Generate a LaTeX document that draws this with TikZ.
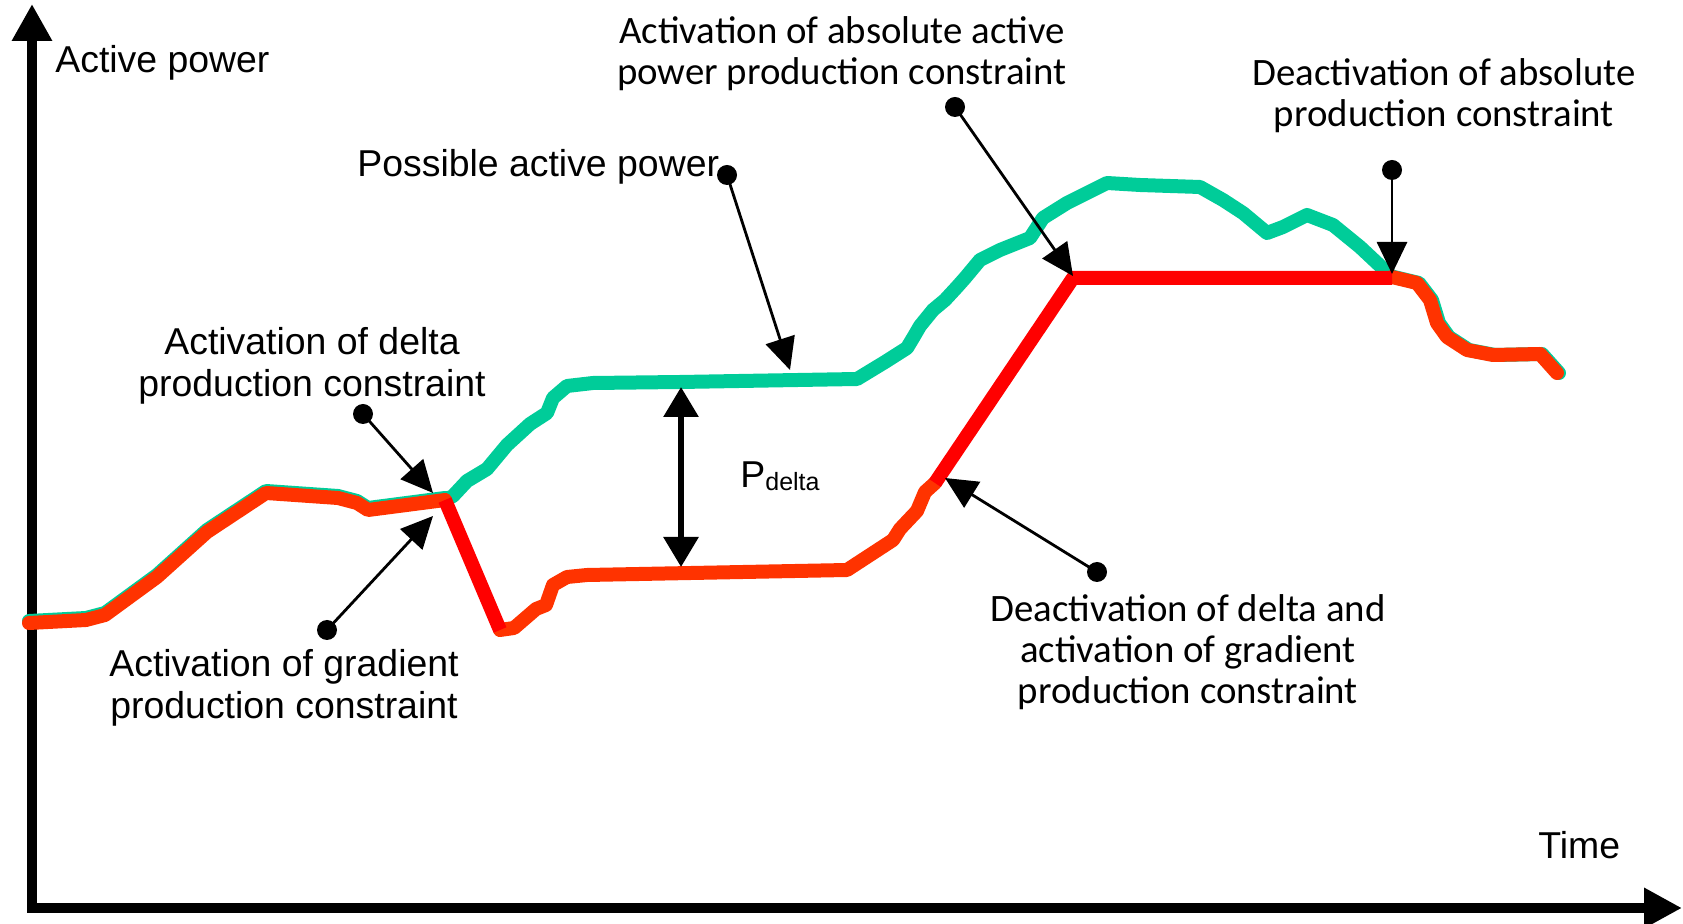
\documentclass[tikz,border=0pt]{standalone}
\usepackage{fontspec}
\setmainfont{Carlito}
\newfontfamily\arialf{Liberation Sans}
\usetikzlibrary{arrows.meta}
\definecolor{possgreen}{HTML}{00CC99}
\definecolor{prodorange}{HTML}{FF3300}
\definecolor{limred}{HTML}{FF0000}
\begin{document}
\begin{tikzpicture}[x=0.5pt,y=-0.5pt,
  axisline/.style={line width=5pt},
  greenc/.style={possgreen, line width=7pt, line join=round, line cap=round},
  orangec/.style={prodorange, line width=7pt, line join=round, line cap=round},
  redc/.style={limred, line width=7pt, line join=miter},
  ann/.style={line width=1.4pt, -{Triangle[length=16pt,width=15pt]}},
  dbl/.style={line width=3pt, {Triangle[length=15pt,width=17pt]}-{Triangle[length=15pt,width=17pt]}},
  dot/.style={circle, fill=black, inner sep=0pt, minimum size=10pt},
  cal/.style={font=\fontsize{19.4}{20.5}\selectfont, align=center, inner sep=0pt},
  arlm/.style={font=\arialf\fontsize{18.7}{21}\selectfont, align=center, inner sep=0pt},
  arl/.style={font=\arialf\fontsize{18.7}{21}\selectfont, inner sep=0pt}]
\useasboundingbox (0,0) rectangle (1683,924);

% axes
\coordinate (ytip) at (32,4);
\coordinate (xtip) at (1682,908);
\draw[axisline, {Triangle[length=18.5pt,width=19pt]}-{Triangle[length=19pt,width=19pt]}] (ytip) |- (xtip);

% possible active power (green)
\draw[greenc, yshift=1pt] (29,623) -- (86,620) -- (105,615) -- (157,577) -- (207,532) -- (266,493) -- (338,498) -- (357,503) -- (368,510) -- (445,500);
\draw[greenc] (445,500) -- (453,496) -- (467,481) -- (487,469) -- (507,445) -- (530,424) -- (547,413) -- (553,398) -- (567,386) -- (593,383) -- (680,382) -- (857,379) -- (885,362) -- (907,348) -- (913,338) -- (920,326) -- (933,310) -- (945,300) -- (957,287) -- (965,278) -- (980,260) -- (1000,250) -- (1030,238) -- (1043,218) -- (1067,203) -- (1107,183) -- (1140,185) -- (1200,187) -- (1223,200) -- (1243,213) -- (1267,233) -- (1283,227) -- (1307,215) -- (1333,225) -- (1360,247) -- (1392,277);
\draw[greenc, xshift=1pt] (1392,277) -- (1417,283) -- (1430,300) -- (1437,323) -- (1447,337) -- (1467,350) -- (1493,355) -- (1540,354) -- (1557,373);

% actual production (orange)
\draw[orangec] (29,623) -- (86,620) -- (105,615) -- (157,577) -- (207,532) -- (266,493) -- (338,498) -- (357,503) -- (368,510) -- (445,500);
\draw[orangec] (500,630) -- (514,628) -- (536,609) -- (546,605) -- (553,585) -- (567,577) -- (587,575) -- (847,570) -- (893,540) -- (900,529) -- (917,511) -- (925,492) -- (935,483);
\draw[orangec] (1392,277) -- (1417,283) -- (1430,300) -- (1437,323) -- (1447,337) -- (1467,350) -- (1493,355) -- (1540,354) -- (1557,373);

% constrained segments (red)
\draw[redc] (445,500) -- (500,630);
\draw[redc] (935,483) -- (1073,278) -- (1392,278);

% P delta arrow
\coordinate (pdTop) at (681,387);
\coordinate (pdBot) at (681,567);
\draw[dbl] (pdTop) -- (pdBot);

% annotation dots and arrows
\node[dot] (dPoss) at (727,175) {};
\coordinate (tPoss) at (790,370);
\node[dot] (dAbsOn) at (955,107) {};
\coordinate (tAbsOn) at (1073,276);
\node[dot] (dAbsOff) at (1392,170) {};
\coordinate (tAbsOff) at (1392,274);
\node[dot] (dDelta) at (363,414) {};
\coordinate (tDelta) at (433,493);
\node[dot] (dGrad) at (327,630) {};
\coordinate (tGrad) at (433,516);
\node[dot] (dDeac) at (1097,572) {};
\coordinate (tDeac) at (945,478);

\draw[ann] (dPoss.center) -- (tPoss);
\draw[ann] (dAbsOn.center) -- (tAbsOn);
\draw[ann] (dAbsOff.center) -- (tAbsOff);
\draw[ann] (dDelta.center) -- (tDelta);
\draw[ann] (dGrad.center) -- (tGrad);
\draw[ann] (dDeac.center) -- (tDeac);

% labels
\node[arl, anchor=base west] (lAP) at (55,73) {Active power};
\node[arl, anchor=base west] (lTime) at (1538,859) {Time};
\node[arl, anchor=base west] (lPoss) at (357,177) {Possible active power};
\node[arl, anchor=base west] (lPd) at (740,488) {P\raisebox{-1.5pt}{\fontsize{12.5}{12.5}\selectfont delta}};
\node[cal] (lAbsOn) at (842,54) {Activation of absolute active\\power production constraint};
\node[cal] (lAbsOff) at (1444,96) {Deactivation of absolute\\production constraint};
\node[arlm] (lDelta) at (312,366) {Activation of delta\\production constraint};
\node[arlm] (lGrad) at (284,688) {Activation of gradient\\production constraint};
\node[cal] (lDeac) at (1188,652) {Deactivation of delta and\\activation of gradient\\production constraint};
\end{tikzpicture}
\end{document}
